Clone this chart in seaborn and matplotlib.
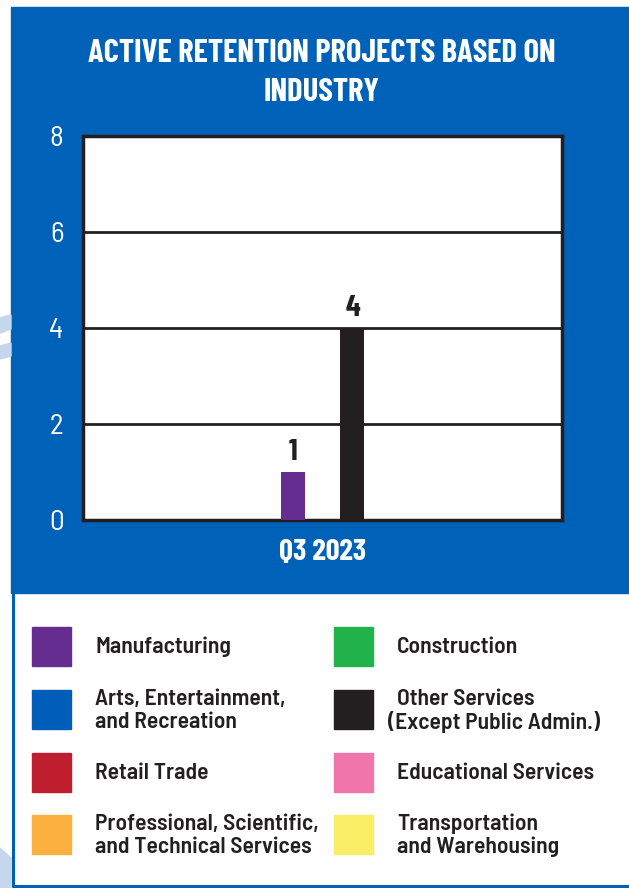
import pandas as pd
import matplotlib.pyplot as plt
import seaborn as sns
from matplotlib.patches import Rectangle, Polygon

# chart data
quarter = ["Q3 2023"]
industries = ["Manufacturing", "Construction",
              "Arts, Entertainment,\nand Recreation", "Other Services\n(Except Public Admin.)",
              "Retail Trade", "Educational Services",
              "Professional, Scientific,\nand Technical Services", "Transportation\nand Warehousing"]
colors = ["#662d91", "#22b24c", "#005eb8", "#231f20",
          "#be1e2d", "#f075aa", "#fbb040", "#f9ee66"]
shown = ["Manufacturing", "Other Services\n(Except Public Admin.)"]
shown_values = [1, 4]
y_ticks = [0, 2, 4, 6, 8]

BLUE = "#0061b9"
LIGHT = "#c4d7ee"
DARK = "#231f20"
title_font = ["Barlow Condensed", "DejaVu Sans"]
body_font = ["Barlow Semi Condensed", "DejaVu Sans"]

sns.set_style("white")
plt.rcParams["font.family"] = body_font

fig = plt.figure(figsize=(6.29, 8.88), dpi=100)
W, H = 629, 888


def fx(x):
    return x / W


def fy(y):
    return 1 - y / H


# blue panel behind the chart
fig.patches.append(Rectangle((fx(11), fy(593)), 1, (593 - 7) / H,
                             transform=fig.transFigure, color=BLUE, zorder=-1))
# faint decorations at the left edge
for pts in ([(0, 318), (11, 315), (11, 329), (0, 333)],
            [(0, 346), (11, 343), (11, 356), (0, 359)],
            [(0, 848), (11, 858), (11, 888), (0, 888)]):
    fig.patches.append(Polygon([(fx(a), fy(b)) for a, b in pts],
                               transform=fig.transFigure, color=LIGHT, zorder=-1))
# legend frame lines
fig.add_artist(plt.Line2D([fx(12.5), fx(12.5)], [fy(593), fy(886)],
                          transform=fig.transFigure, color=BLUE, lw=2.2))
fig.add_artist(plt.Line2D([fx(12.5), 1], [fy(885.5), fy(885.5)],
                          transform=fig.transFigure, color=BLUE, lw=2.2))

ax = fig.add_axes([fx(83), fy(520), (562 - 83) / W, (520 - 136) / H])
df = pd.DataFrame({"quarter": quarter * len(shown), "industry": shown, "value": shown_values})
pal = {k: c for k, c in zip(industries, colors)}
sns.barplot(data=df, x="quarter", y="value", hue="industry", palette=pal,
            width=0.25, gap=0.6, saturation=1, legend=False, ax=ax, zorder=3,
            linewidth=0)

ax.set_ylim(0, 8)
ax.set_xlim(-0.5, 0.5)
ax.set_yticks(y_ticks)
ax.set_yticklabels([str(t) for t in y_ticks], color="white", fontsize=21)
ax.tick_params(axis="y", length=0, pad=14)
ax.tick_params(axis="x", length=0, pad=14)
ax.set_xticks([0])
ax.set_xticklabels(quarter, color="white", fontsize=22, fontweight="bold",
                   family=title_font)
ax.set_xlabel("")
ax.set_ylabel("")
for v in y_ticks[1:-1]:
    ax.axhline(v, color=DARK, lw=2, zorder=1)
for s in ax.spines.values():
    s.set_color(DARK)
    s.set_linewidth(2.5)
for c in ax.containers:
    ax.bar_label(c, fontsize=22, fontweight="bold", color=DARK, padding=4,
                 family=title_font)

fig.text(fx(322), fy(54), "ACTIVE RETENTION PROJECTS BASED ON", color="white",
         fontsize=23.5, fontweight="bold", ha="center", va="center", family=title_font)
fig.text(fx(322), fy(92), "INDUSTRY", color="white",
         fontsize=23.5, fontweight="bold", ha="center", va="center", family=title_font)

# legend: squares and labels in two columns
rows_y = [646, 709, 772, 834]
for i, (name, col) in enumerate(zip(industries, colors)):
    r, c = divmod(i, 2)
    x0 = 32 if c == 0 else 334
    yc = rows_y[r]
    fig.patches.append(Rectangle((fx(x0), fy(yc + 19.5)), 39 / W, 39 / H,
                                 transform=fig.transFigure, color=col))
    tx = 95 if c == 0 else 397
    lines = name.split("\n")
    offs = [0] if len(lines) == 1 else [-11.5, 11.5]
    for line, off in zip(lines, offs):
        lx = 388 if line.startswith("(Except") else tx
        fig.text(fx(lx), fy(yc + 1 + off), line, color=DARK, fontsize=17,
                 fontweight="semibold", ha="left", va="center")

fig.savefig("out.png", dpi=100)
